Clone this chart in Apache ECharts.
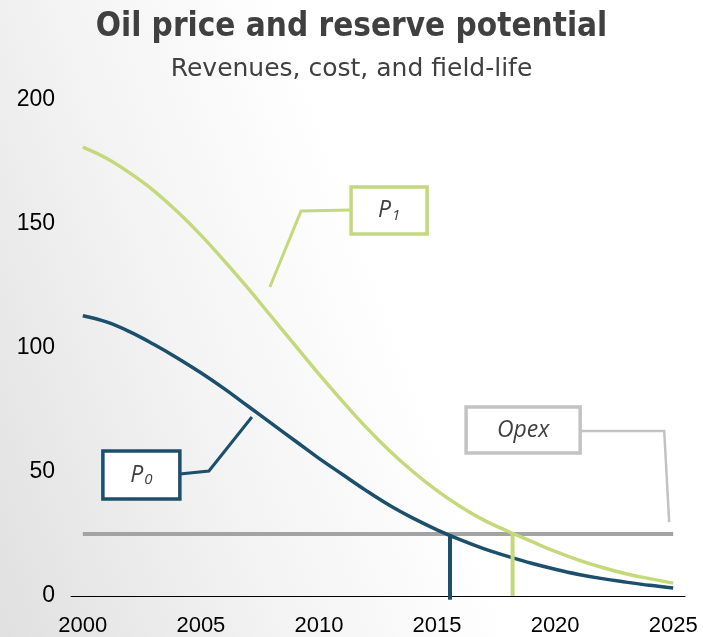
<!DOCTYPE html>
<html>
<head>
<meta charset="utf-8">
<script src="https://cdn.jsdelivr.net/npm/echarts@6/dist/echarts.min.js"></script>
<style>
  html, body { margin: 0; padding: 0; }
  #chart {
    width: 703px; height: 637px;
    background: linear-gradient(70deg, #e0e0e0 0%, #f3f3f3 30%, #ffffff 55%);
  }
</style>
</head>
<body>
<div id="chart"></div>
<script>
// data
var years = [2000, 2001, 2002, 2003, 2004, 2005, 2006, 2007, 2008, 2009, 2010, 2011, 2012,
             2013, 2014, 2015, 2016, 2017, 2018, 2019, 2020, 2021, 2022, 2023, 2024, 2025];
var p1 = [181, 176.5, 170.5, 163.5, 155, 145.5, 135, 124, 112.5, 101, 89.5, 78.5, 68,
          58.5, 50, 42.5, 36, 30.5, 26.1, 22, 18, 14.5, 11.5, 9, 7, 5.2];
var p0 = [113, 110.5, 106.5, 101.5, 96, 90, 83.5, 76.5, 69.5, 62.5, 55.5, 49, 42.5,
          36.5, 31.3, 26.7, 22.6, 19, 16, 13.2, 10.8, 8.7, 7, 5.6, 4.3, 3.2];
var opex = 25;
var fieldLifeP0 = 2015.55;
var fieldLifeP1 = 2018.2;
var xTicks = [2000, 2005, 2010, 2015, 2020, 2025];

var BLUE = '#1b4f6b';
var GREEN = '#c4d97b';
var GREY = '#a3a3a3';
var TEXT = '#404040';

function pairs(xs, ys) {
    return xs.map(function (x, i) { return [x, ys[i]]; });
}

var chart = echarts.init(document.getElementById('chart'));

chart.setOption({
    animation: false,
    title: [{
        text: 'Oil price and reserve potential',
        left: 'center',
        top: 6,
        textStyle: { fontFamily: 'DejaVu Sans Condensed', fontWeight: 'bold', fontSize: 33, color: TEXT }
    }, {
        text: 'Revenues, cost, and field-life',
        left: 'center',
        top: 52,
        textStyle: { fontFamily: 'DejaVu Sans', fontWeight: 'normal', fontSize: 25, color: TEXT }
    }],
    grid: { left: 71, right: 18, top: 100, bottom: 40 },
    xAxis: {
        type: 'value',
        min: 1999.5,
        max: 2025.5,
        splitLine: { show: false },
        axisTick: { show: false },
        axisLine: { lineStyle: { color: '#000', width: 1 } },
        axisLabel: {
            customValues: xTicks,
            formatter: function (v) { return String(v); },
            margin: 19,
            color: '#000',
            fontFamily: 'Liberation Sans',
            fontSize: 22
        }
    },
    yAxis: {
        type: 'value',
        min: 0,
        max: 200,
        interval: 50,
        splitLine: { show: false },
        axisTick: { show: false },
        axisLine: { show: false },
        axisLabel: { margin: 16, color: '#000', fontFamily: 'Liberation Sans', fontSize: 23 }
    },
    series: [
        {
            name: 'Opex', type: 'line', symbol: 'none',
            data: [[years[0], opex], [years[years.length - 1], opex]],
            lineStyle: { color: GREY, width: 4 }
        },
        {
            name: 'P1', type: 'line', symbol: 'none', smooth: 0.4,
            data: pairs(years, p1),
            lineStyle: { color: GREEN, width: 3.5 }
        },
        {
            name: 'P0', type: 'line', symbol: 'none', smooth: 0.4,
            data: pairs(years, p0),
            lineStyle: { color: BLUE, width: 3.5 }
        },
        {
            name: 'life P0', type: 'line', symbol: 'none', clip: false,
            data: [[fieldLifeP0, -1.5], [fieldLifeP0, opex]],
            lineStyle: { color: BLUE, width: 4, cap: 'butt' }
        },
        {
            name: 'life P1', type: 'line', symbol: 'none',
            data: [[fieldLifeP1, 0], [fieldLifeP1, opex]],
            lineStyle: { color: GREEN, width: 4, cap: 'butt' }
        }
    ]
});

// callout boxes in data coordinates: [x0, yTop, x1, yBottom] and leader polyline
var callouts = [
    { main: 'P', sub: '0', color: BLUE, lw: 3,
      box: [2000.85, 58.5, 2004.11, 39.1],
      leader: [[2004.11, 49.2], [2005.34, 50.4], [2007.16, 72.2]] },
    { main: 'P', sub: '1', color: GREEN, lw: 3,
      box: [2011.36, 164.9, 2014.58, 146],
      leader: [[2011.3, 155.6], [2009.24, 155.2], [2007.92, 124.6]] },
    { main: 'Opex', sub: '', color: '#c2c2c2', lw: 2.5,
      box: [2016.23, 76.2, 2021.06, 57.7],
      leader: [[2021.1, 66.5], [2024.62, 66.5], [2024.83, 29.8]] }
];

function px(p) { return chart.convertToPixel({ gridIndex: 0 }, p); }

var graphics = [];
callouts.forEach(function (c) {
    graphics.push({
        type: 'polyline',
        shape: { points: c.leader.map(px) },
        style: { stroke: c.color, lineWidth: c.lw, fill: null, lineJoin: 'miter' },
        z: 10
    });
    var a = px([c.box[0], c.box[1]]);
    var b = px([c.box[2], c.box[3]]);
    graphics.push({
        type: 'rect',
        shape: { x: a[0], y: a[1], width: b[0] - a[0], height: b[1] - a[1] },
        style: { fill: '#fff', stroke: c.color, lineWidth: 3.5 },
        z: 11
    });
    graphics.push({
        type: 'text',
        x: (a[0] + b[0]) / 2,
        y: (a[1] + b[1]) / 2,
        style: {
            text: c.sub ? '{m|' + c.main + '}{s|' + c.sub + '}' : '{m|' + c.main + '}',
            align: 'center',
            verticalAlign: 'middle',
            rich: {
                m: { fontFamily: 'Open Sans', fontStyle: 'italic', fontSize: 23, fill: TEXT },
                s: { fontFamily: 'Open Sans', fontStyle: 'italic', fontSize: 15, fill: TEXT, padding: [10, 0, 0, 1] }
            }
        },
        z: 12
    });
});
chart.setOption({ graphic: graphics });
</script>
</body>
</html>
